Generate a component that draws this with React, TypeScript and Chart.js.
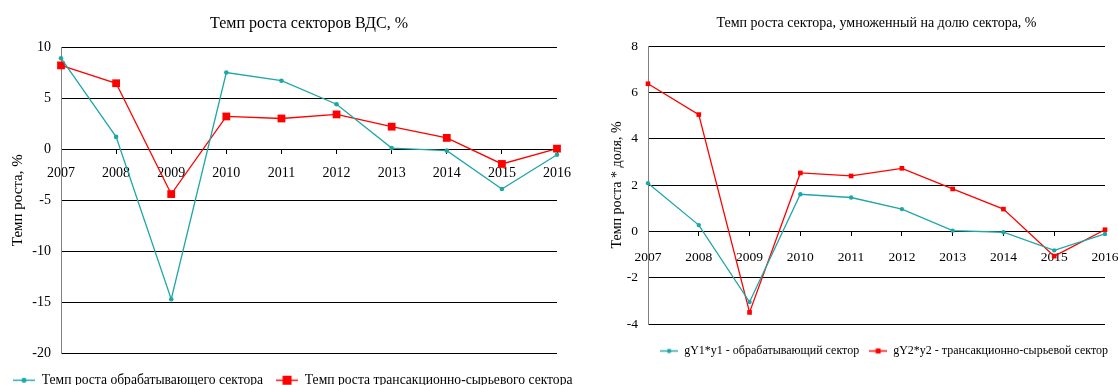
import React, { useEffect, useRef } from 'react';
import { Chart, registerables } from 'chart.js';

Chart.register(...registerables);

// ---------- data ----------
const years = ['2007', '2008', '2009', '2010', '2011', '2012', '2013', '2014', '2015', '2016'];

const manufacturingGrowth = [8.9, 1.2, -14.7, 7.5, 6.7, 4.4, 0.1, -0.15, -3.9, -0.55];
const transactionGrowth = [8.2, 6.45, -4.4, 3.2, 3.0, 3.4, 2.2, 1.1, -1.45, 0.05];

const manufacturingWeighted = [2.08, 0.27, -3.05, 1.6, 1.46, 0.96, 0.03, -0.04, -0.82, -0.11];
const transactionWeighted = [6.37, 5.04, -3.5, 2.52, 2.39, 2.72, 1.83, 0.96, -1.07, 0.07];

const leftTitle = 'Темп роста секторов ВДС, %';
const leftYTitle = 'Темп роста, %';
const leftLabels = ['Темп роста обрабатывающего сектора', 'Темп роста трансакционно-сырьевого сектора'];
const leftRange = [-20, 10, 5];

const rightTitle = 'Темп роста сектора, умноженный на долю сектора, %';
const rightYTitle = 'Темп роста * доля, %';
const rightLabels = ['gY1*y1 - обрабатывающий сектор', 'gY2*y2 - трансакционно-сырьевой сектор'];
const rightRange = [-4, 8, 2];

const TEAL = '#1fa6a6';
const RED = '#ff0000';
const FONT = "'Liberation Serif', 'Times New Roman', serif";

function makeIcon(color: string, shape: 'circle' | 'square', width: number, size: number) {
  const c = document.createElement('canvas');
  const h = Math.ceil(size * 2) + 2;
  c.width = width;
  c.height = h;
  const ctx = c.getContext('2d')!;
  ctx.strokeStyle = color;
  ctx.lineWidth = 1.4;
  ctx.beginPath();
  ctx.moveTo(0, h / 2);
  ctx.lineTo(width, h / 2);
  ctx.stroke();
  ctx.fillStyle = color;
  if (shape === 'circle') {
    ctx.beginPath();
    ctx.arc(width / 2, h / 2, size, 0, Math.PI * 2);
    ctx.fill();
  } else {
    ctx.fillRect(width / 2 - size, h / 2 - size, size * 2, size * 2);
  }
  return c;
}

type Cfg = {
  title: string;
  titleSize: number;
  titlePad: [number, number];
  yTitle: string;
  yTitleSize: number;
  yTitlePad: number;
  yWidth: number;
  rightGap: number;
  range: number[];
  labels: string[];
  series: number[][];
  tickSize: number;
  xTickPad: number;
  legendSize: number;
  legendPad: number;
  legendAlign: 'start' | 'end' | 'center';
  legendSpacer: number;
  iconWidth: number;
  teal: { radius: number; icon: number };
  red: { radius: number; icon: number };
};

function LineChart({ cfg }: { cfg: Cfg }) {
  const ref = useRef<HTMLCanvasElement | null>(null);
  useEffect(() => {
    if (!ref.current) return;
    const icons = [
      makeIcon(TEAL, 'circle', cfg.iconWidth, cfg.teal.icon),
      makeIcon(RED, 'square', cfg.iconWidth, cfg.red.icon),
    ];
    const chart = new Chart(ref.current, {
      type: 'line',
      data: {
        labels: years,
        datasets: [
          {
            label: cfg.labels[0],
            data: cfg.series[0],
            borderColor: TEAL,
            backgroundColor: TEAL,
            borderWidth: 1.3,
            pointStyle: 'circle',
            pointRadius: cfg.teal.radius,
            pointBorderWidth: 0,
            pointBackgroundColor: TEAL,
            tension: 0,
            clip: false as any,
          },
          {
            label: cfg.labels[1],
            data: cfg.series[1],
            borderColor: RED,
            backgroundColor: RED,
            borderWidth: 1.3,
            pointStyle: 'rect',
            pointRadius: cfg.red.radius,
            pointBorderWidth: 0,
            pointBackgroundColor: RED,
            tension: 0,
            clip: false as any,
          },
        ],
      },
      options: {
        animation: false,
        responsive: true,
        maintainAspectRatio: false,
        events: [],
        layout: { padding: 0 },
        scales: {
          x: {
            type: 'category',
            offset: false,
            position: { y: 0 } as any,
            grid: {
              display: true,
              drawOnChartArea: false,
              drawTicks: true,
              tickLength: 4,
              color: '#000',
              offset: false,
            },
            border: { display: true, color: '#000', width: 1 },
            ticks: {
              color: '#000',
              font: { family: FONT, size: cfg.tickSize },
              padding: cfg.xTickPad,
              maxRotation: 0,
              autoSkip: false,
            },
            afterFit: (s: any) => {
              s.paddingLeft = 0;
              s.paddingRight = 0;
            },
          },
          y: {
            type: 'linear',
            position: 'left',
            min: cfg.range[0],
            max: cfg.range[1],
            ticks: {
              stepSize: cfg.range[2],
              color: '#000',
              font: { family: FONT, size: cfg.tickSize },
              padding: 10,
            },
            grid: { color: '#000', lineWidth: 1, drawTicks: false },
            border: { display: true, color: '#808080', width: 1 },
            title: {
              display: true,
              text: cfg.yTitle,
              color: '#000',
              font: { family: FONT, size: cfg.yTitleSize },
              padding: { top: cfg.yTitlePad, bottom: 0 },
            },
            afterFit: (s: any) => {
              s.width = cfg.yWidth;
            },
          },
          gap: {
            type: 'linear',
            position: 'right',
            display: true,
            grid: { display: false },
            border: { display: false },
            ticks: { display: false },
            afterFit: (s: any) => {
              s.width = cfg.rightGap;
            },
          },
        },
        plugins: {
          tooltip: { enabled: false },
          title: {
            display: true,
            text: cfg.title,
            fullSize: false,
            color: '#000',
            font: { family: FONT, size: cfg.titleSize, weight: 'normal' },
            padding: { top: cfg.titlePad[0], bottom: cfg.titlePad[1] },
          },
          legend: {
            display: true,
            position: 'bottom',
            align: cfg.legendAlign,
            fullSize: true,
            title: {
              display: true,
              text: '',
              font: { size: 1, lineHeight: 1 },
              padding: { top: cfg.legendSpacer - 1, bottom: 0 },
            },
            labels: {
              color: '#000',
              font: { family: FONT, size: cfg.legendSize },
              padding: cfg.legendPad,
              usePointStyle: true,
              pointStyleWidth: cfg.iconWidth,
              generateLabels: (c: any) =>
                Chart.defaults.plugins.legend.labels
                  .generateLabels(c)
                  .map((l: any, i: number) => ({ ...l, pointStyle: icons[i] })),
            },
          },
        },
      },
    });
    return () => chart.destroy();
  }, [cfg]);
  return <canvas ref={ref} />;
}

const leftCfg: Cfg = {
  title: leftTitle,
  titleSize: 16,
  titlePad: [14.4, 13.4],
  yTitle: leftYTitle,
  yTitleSize: 15,
  yTitlePad: 9,
  yWidth: 61,
  rightGap: 43,
  range: leftRange,
  labels: leftLabels,
  series: [manufacturingGrowth, transactionGrowth],
  tickSize: 14,
  xTickPad: 12,
  legendSize: 13.6,
  legendPad: 13,
  legendAlign: 'start',
  legendSpacer: 7,
  iconWidth: 22,
  teal: { radius: 2.3, icon: 2.5 },
  red: { radius: 5.5, icon: 4.5 },
};

const rightCfg: Cfg = {
  title: rightTitle,
  titleSize: 14,
  titlePad: [14.6, 14.6],
  yTitle: rightYTitle,
  yTitleSize: 14,
  yTitlePad: 8.6,
  yWidth: 48,
  rightGap: 13,
  range: rightRange,
  labels: rightLabels,
  series: [manufacturingWeighted, transactionWeighted],
  tickSize: 13.5,
  xTickPad: 14,
  legendSize: 12,
  legendPad: 10,
  legendAlign: 'end',
  legendSpacer: 11,
  iconWidth: 18,
  teal: { radius: 2.2, icon: 2.2 },
  red: { radius: 3.3, icon: 2.5 },
};

export default function App() {
  return (
    <div
      style={{
        position: 'absolute',
        left: 0,
        top: 0,
        width: 1118,
        height: 385,
        overflow: 'hidden',
        background: '#fff',
      }}
    >
      <div style={{ position: 'absolute', left: 0, top: 0, width: 600, height: 397 }}>
        <LineChart cfg={leftCfg} />
      </div>
      <div style={{ position: 'absolute', left: 600, top: 0, width: 518, height: 367 }}>
        <LineChart cfg={rightCfg} />
      </div>
    </div>
  );
}
